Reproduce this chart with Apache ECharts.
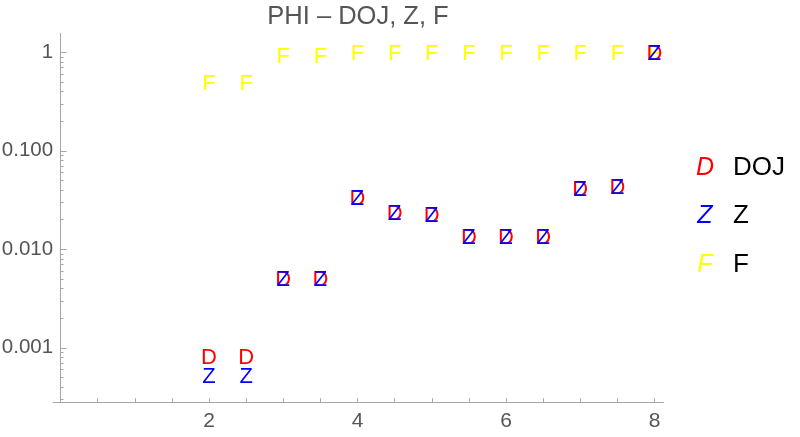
<!DOCTYPE html>
<html><head><meta charset="utf-8">
<script src="https://cdn.jsdelivr.net/npm/echarts@6/dist/echarts.min.js"></script>
<style>html,body{margin:0;padding:0;background:#fff}#c{width:800px;height:437px}</style>
</head><body><div id="c"></div>
<script>
// ---- data ----
const xValues   = [2, 2.5, 3, 3.5, 4, 4.5, 5, 5.5, 6, 6.5, 7, 7.5, 8];
const dojValues = [0.00081, 0.00081, 0.0051, 0.0051, 0.0337, 0.0238, 0.0224, 0.0134, 0.0134, 0.0134, 0.0411, 0.0431, 1.0];
const zValues   = [0.00052, 0.00052, 0.0051, 0.0051, 0.0337, 0.0238, 0.0224, 0.0134, 0.0134, 0.0134, 0.0411, 0.0431, 1.0];
const fValues   = [0.5, 0.5, 0.94, 0.94, 1.0, 1.0, 1.0, 1.0, 1.0, 1.0, 1.0, 1.0, 1.0];
const seriesNames = ['DOJ', 'Z', 'F'];
const seriesLetters = ['D', 'Z', 'F'];
const titleText = 'PHI \u2013 DOJ, Z, F';
// ---- ticks ----
const xLabelValues = [2, 4, 6, 8];
const xTickValues = [0.5, 1, 1.5, 2, 2.5, 3, 3.5, 4, 4.5, 5, 5.5, 6, 6.5, 7, 7.5, 8];
const yMajorValues = [0.001, 0.01, 0.1, 1];
const yMajorLabels = ['0.001', '0.010', '0.100', '1'];
const yMinorValues = [];
[0.0001, 0.001, 0.01, 0.1].forEach(function (d) {
  for (let k = 2; k <= 9; k++) { const v = +(d * k).toPrecision(3); if (v >= 0.00028 && v <= 1.56) yMinorValues.push(v); }
});

const colors = ['#ff0000', '#0000ff', '#ffff00'];
const axisColor = '#a6a6a6';
const labelColor = '#555555';
const FONT = '"Liberation Sans", Arial, sans-serif';
const X_MIN = -0.1, X_MAX = 8.12, Y_MIN = 0.00028, Y_MAX = 1.56;

function textSeries(idx, vals) {
  return {
    name: seriesNames[idx], type: 'scatter', silent: true,
    data: xValues.map(function (x, i) { return [x, vals[i]]; }),
    symbol: 'circle', symbolSize: 1, itemStyle: { color: 'rgba(0,0,0,0)', opacity: 1 },
    label: { show: true, position: 'inside', formatter: seriesLetters[idx], offset: [0, 1.5],
      color: colors[idx], fontSize: 22, fontFamily: FONT, opacity: 1 },
    emphasis: { disabled: true }
  };
}
function yLabel(v) {
  for (let i = 0; i < yMajorValues.length; i++) {
    if (Math.abs(Math.log10(v) - Math.log10(yMajorValues[i])) < 1e-6) return yMajorLabels[i];
  }
  return '';
}

const chart = echarts.init(document.getElementById('c'), null, { renderer: 'canvas' });
const legendY = [168, 216, 265];
const graphics = [{
  type: 'text', x: 358, y: 17,
  style: { text: titleText, fill: labelColor, font: '25.5px ' + FONT, textAlign: 'center', textVerticalAlign: 'middle' }
}];
for (let i = 0; i < 3; i++) {
  graphics.push({ type: 'text', x: 705, y: legendY[i],
    style: { text: seriesLetters[i], fill: colors[i], font: 'italic 25px ' + FONT, textAlign: 'center', textVerticalAlign: 'middle' } });
  graphics.push({ type: 'text', x: 733, y: legendY[i],
    style: { text: seriesNames[i], fill: '#000', font: '26px ' + FONT, textAlign: 'left', textVerticalAlign: 'middle' } });
}

chart.setOption({
  animation: false,
  backgroundColor: '#fff',
  grid: { left: 53.1, right: 136.6, top: 33.3, bottom: 34.7, containLabel: false, outerBoundsMode: 'none' },
  xAxis: [{
    type: 'value', min: X_MIN, max: X_MAX,
    axisLine: { onZero: false, lineStyle: { color: axisColor, width: 1 } },
    axisTick: { inside: true, length: 4, customValues: xTickValues, lineStyle: { color: axisColor } },
    axisLabel: { customValues: xLabelValues, fontSize: 21, color: labelColor, margin: 8, fontFamily: FONT },
    splitLine: { show: false }
  }, {
    type: 'value', min: X_MIN, max: X_MAX, position: 'top',
    axisLine: { show: false, onZero: false }, axisTick: { show: false }, axisLabel: { show: false },
    splitLine: { show: false }
  }],
  yAxis: [{
    type: 'log', logBase: 10, min: Y_MIN, max: Y_MAX,
    axisLine: { show: true, onZero: true, onZeroAxisIndex: 0, lineStyle: { color: axisColor, width: 1 } },
    axisTick: { show: true, inside: true, length: 6, customValues: yMajorValues, lineStyle: { color: axisColor } },
    axisLabel: { customValues: yMajorValues, formatter: yLabel, fontSize: 20.5, color: labelColor, margin: 0, fontFamily: FONT },
    splitLine: { show: false }, minorTick: { show: false }
  }, {
    type: 'log', logBase: 10, min: Y_MIN, max: Y_MAX, position: 'left', offset: 0,
    axisLine: { show: true, onZero: true, onZeroAxisIndex: 1, lineStyle: { color: 'rgba(0,0,0,0)' } },
    axisTick: { show: true, inside: true, length: 3, customValues: yMinorValues, lineStyle: { color: axisColor } },
    axisLabel: { show: false },
    splitLine: { show: false }
  }],
  series: [textSeries(2, fValues), textSeries(0, dojValues), textSeries(1, zValues)],
  graphic: graphics
});
</script></body></html>
